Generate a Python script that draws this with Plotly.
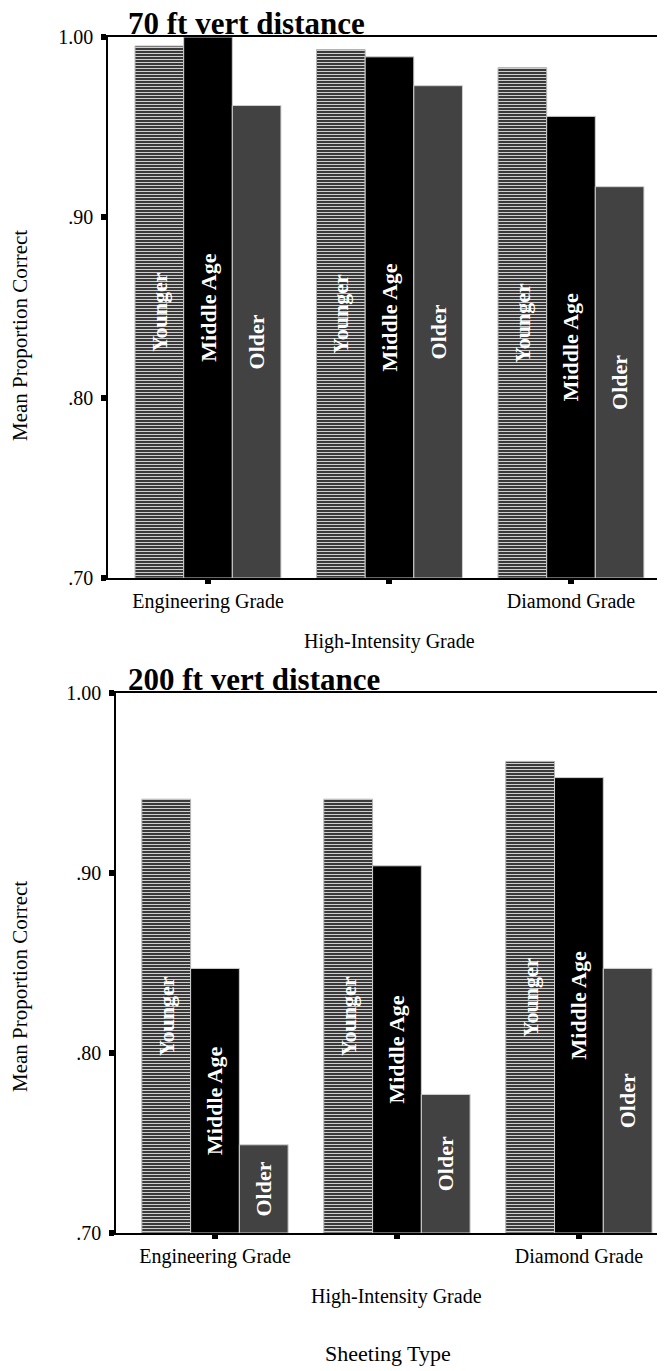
import plotly.graph_objects as go

# ---------------- data ----------------
categories = ["Engineering Grade", "High-Intensity Grade", "Diamond Grade"]
age_groups = ["Younger", "Middle Age", "Older"]
panel_titles = ["70 ft vert distance", "200 ft vert distance"]

vals_70_younger = [0.995, 0.993, 0.983]
vals_70_middle = [1.000, 0.989, 0.956]
vals_70_older = [0.962, 0.973, 0.917]

vals_200_younger = [0.941, 0.941, 0.962]
vals_200_middle = [0.847, 0.904, 0.953]
vals_200_older = [0.749, 0.777, 0.847]

y_tickvals = [0.70, 0.80, 0.90, 1.00]
y_ticktext = [".70", ".80", ".90", "1.00"]
y_axis_title = "Mean Proportion Correct"
x_axis_title = "Sheeting Type"

# ---------------- styling ----------------
PAGE_W, PAGE_H = 665, 1371
OFF = 8                     # default page body margin around the plot div
W, H = PAGE_W - OFF, PAGE_H - OFF
SERIF = "Liberation Serif, Times New Roman, serif"
Y_MIN, Y_MAX = y_tickvals[0], y_tickvals[-1]


def px_x(px):   # page pixel -> paper x
    return (px - OFF) / W


def px_y(px):   # page pixel -> paper y
    return 1 - (px - OFF) / H


styles = {
    "Younger": dict(color="#3c3c3c",
                    pattern=dict(shape="-", bgcolor="#3a3a3a", fgcolor="#cfcfcf",
                                 size=3, solidity=0.34, fillmode="replace"),
                    line=dict(color="#b5b5b5", width=1)),
    "Middle Age": dict(color="#000000", line=dict(color="#d0d0d0", width=1)),
    "Older": dict(color="#424242", line=dict(color="#d0d0d0", width=1)),
}

panels = [
    dict(values=[vals_70_younger, vals_70_middle, vals_70_older],
         xa="x", ya="y", px_top=37, px_bot=578, px_left=108,
         xrange=[-0.551, 2.518], ytitle_px=336),
    dict(values=[vals_200_younger, vals_200_middle, vals_200_older],
         xa="x2", ya="y2", px_top=693, px_bot=1233, px_left=116,
         xrange=[-0.544, 2.473], ytitle_px=987),
]

fig = go.Figure()
layout_axes = {}
annotations = []

for i, p in enumerate(panels):
    for age, vals in zip(age_groups, p["values"]):
        fig.add_trace(go.Bar(
            x=categories,
            y=[v - Y_MIN for v in vals],
            base=Y_MIN,
            name=age,
            text=[f"<b>{age}</b>"] * len(categories),
            textposition="inside",
            insidetextanchor="middle",
            textangle=-90,
            constraintext="none",
            textfont=dict(family=SERIF, size=22, color="white"),
            marker=styles[age],
            xaxis=p["xa"], yaxis=p["ya"],
            showlegend=False,
            hovertemplate="%{x}<br>" + age + ": %{customdata:.3f}<extra></extra>",
            customdata=vals,
        ))

    xkey = "xaxis" if i == 0 else "xaxis2"
    ykey = "yaxis" if i == 0 else "yaxis2"
    dom_y = [px_y(p["px_bot"]), px_y(p["px_top"])]
    dom_x = [px_x(p["px_left"]), 1.0]
    layout_axes[xkey] = dict(
        domain=dom_x, anchor=p["ya"], type="category",
        range=p["xrange"], automargin=False,
        showline=True, mirror=True, linecolor="black", linewidth=1.5,
        ticks="outside", ticklen=4, tickwidth=6, tickcolor="black",
        tickvals=categories,
        ticktext=[c if k % 2 == 0 else "" for k, c in enumerate(categories)],
        tickfont=dict(family=SERIF, size=20, color="black"),
        showgrid=False, zeroline=False, fixedrange=True,
    )
    layout_axes[ykey] = dict(
        domain=dom_y, anchor=p["xa"],
        range=[Y_MIN, Y_MAX], automargin=False,
        showline=True, linecolor="black", linewidth=1.5,
        ticks="outside", ticklen=5, tickwidth=6, tickcolor="black",
        ticklabelstandoff=4,
        tickvals=y_tickvals, ticktext=y_ticktext,
        tickfont=dict(family=SERIF, size=20, color="black"),
        showgrid=False, zeroline=False, fixedrange=True,
    )

    # panel title
    annotations.append(dict(
        text=f"<b>{panel_titles[i]}</b>", xref="paper", yref="paper",
        x=px_x(126), y=dom_y[1], xanchor="left", yanchor="bottom", yshift=-6,
        showarrow=False, font=dict(family=SERIF, size=31, color="black"),
    ))
    # y-axis title
    annotations.append(dict(
        text=y_axis_title, xref="paper", yref="paper",
        x=px_x(20), y=px_y(p["ytitle_px"]), textangle=-90,
        xanchor="center", yanchor="middle", showarrow=False,
        font=dict(family=SERIF, size=21, color="black"),
    ))
    # staggered (second-row) category labels
    for k, c in enumerate(categories):
        if k % 2 == 1:
            annotations.append(dict(
                text=c, xref=p["xa"], yref=p["ya"] + " domain",
                x=c, y=0, xanchor="center", yanchor="top", yshift=-50,
                showarrow=False, font=dict(family=SERIF, size=20, color="black"),
            ))

# overall x-axis title
annotations.append(dict(
    text=x_axis_title, xref="paper", yref="paper",
    x=px_x(388), y=px_y(1353), xanchor="center", yanchor="middle",
    showarrow=False, font=dict(family=SERIF, size=22, color="black"),
))

fig.update_layout(
    width=W, height=H,
    margin=dict(l=0, r=0, t=0, b=0, autoexpand=False),
    paper_bgcolor="white", plot_bgcolor="white",
    barmode="group", bargap=0.196, bargroupgap=0,
    showlegend=False,
    annotations=annotations,
    **layout_axes,
)

fig.write_html("out.html")
